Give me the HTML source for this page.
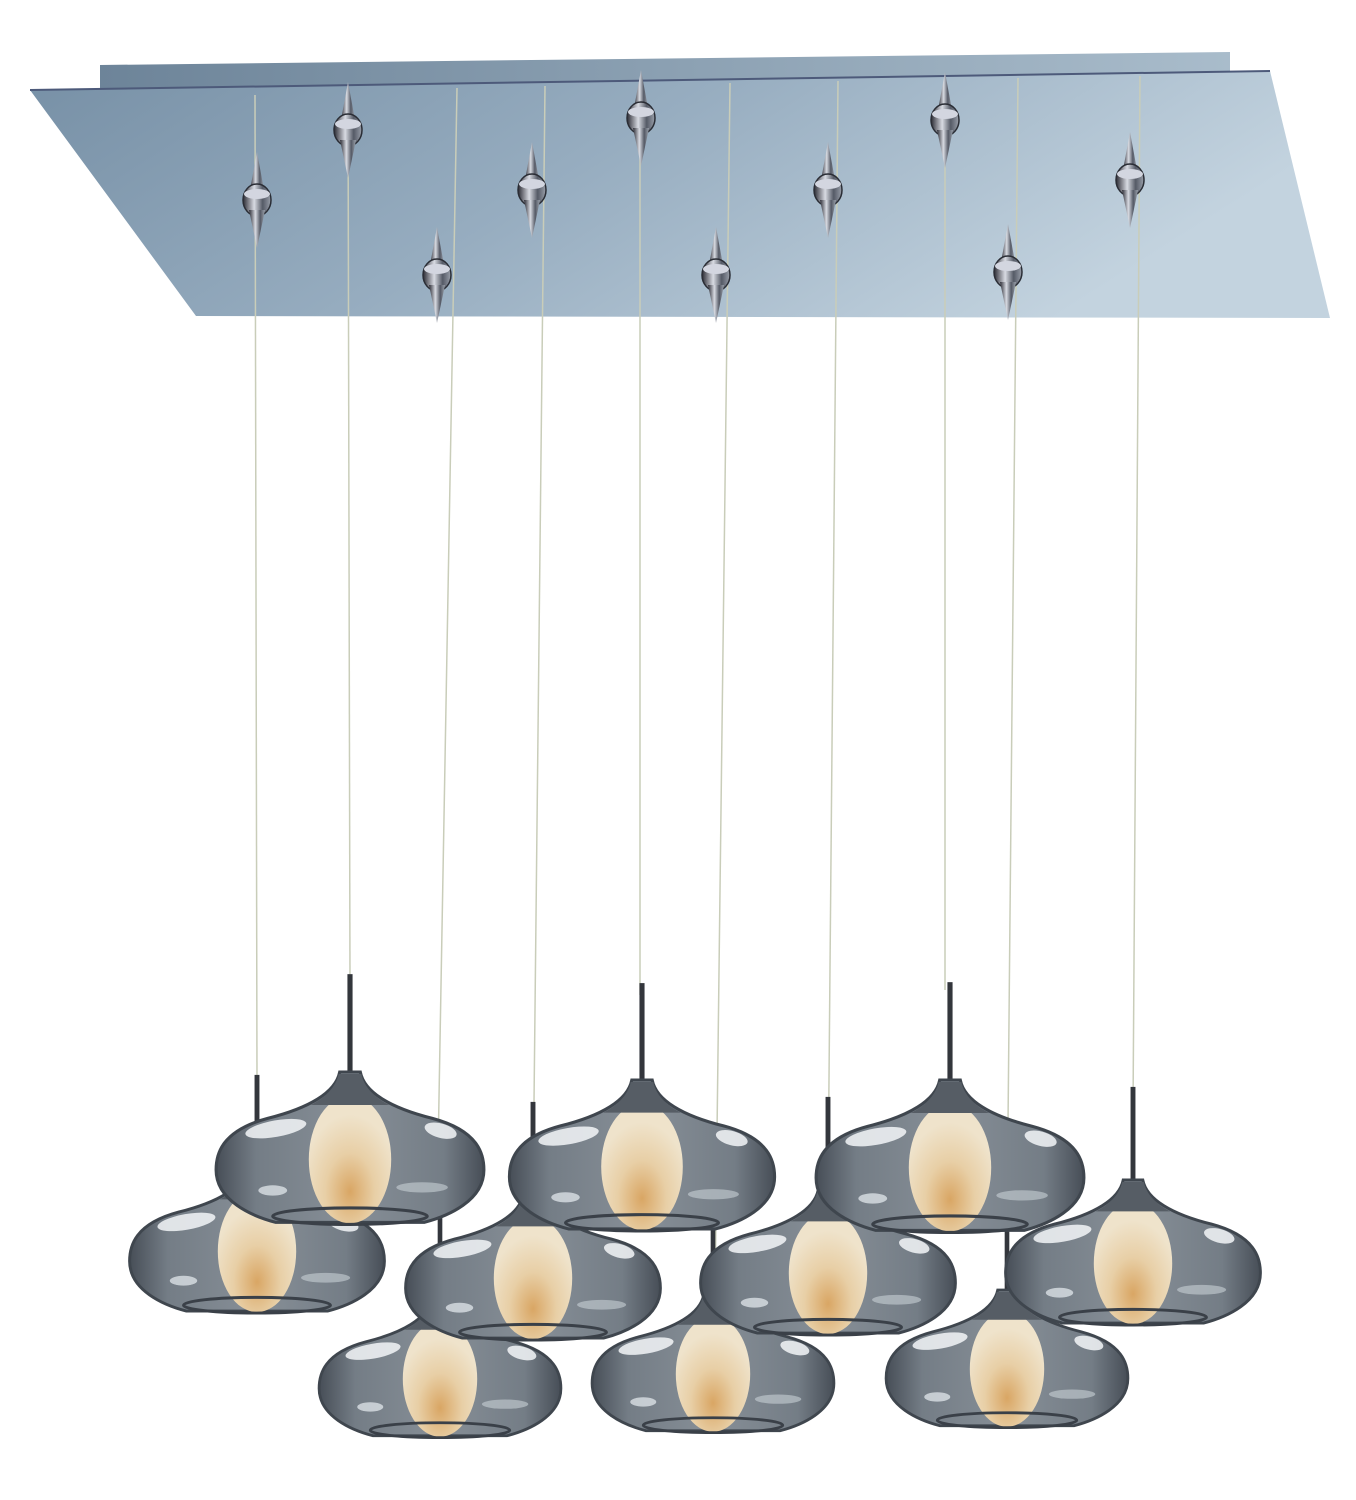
<!DOCTYPE html>
<html><head><meta charset="utf-8"><style>html,body{margin:0;padding:0;background:#fff}svg{display:block}</style></head>
<body>
<svg width="1356" height="1500" viewBox="0 0 1356 1500" xmlns="http://www.w3.org/2000/svg">
<defs>
<linearGradient id="plate" x1="0" y1="0" x2="1" y2="0.3">
<stop offset="0" stop-color="#7790a6"/><stop offset="0.5" stop-color="#97adc0"/><stop offset="1" stop-color="#c3d3df"/>
</linearGradient>
<linearGradient id="back" x1="0" y1="0" x2="1" y2="0">
<stop offset="0" stop-color="#6d8499"/><stop offset="1" stop-color="#a9bccb"/>
</linearGradient>
<linearGradient id="glass" x1="0" y1="0" x2="1" y2="0">
<stop offset="0" stop-color="#474e57"/><stop offset="0.15" stop-color="#747d86"/><stop offset="0.5" stop-color="#878f97"/><stop offset="0.85" stop-color="#747d86"/><stop offset="1" stop-color="#474e57"/>
</linearGradient>
<radialGradient id="core" cx="0.5" cy="0.75" r="0.6">
<stop offset="0" stop-color="#d9a664"/><stop offset="0.5" stop-color="#e8cfa6"/><stop offset="1" stop-color="#efe3cb"/>
</radialGradient>
<linearGradient id="chrome" x1="0" y1="0" x2="1" y2="0">
<stop offset="0" stop-color="#2a2a33"/><stop offset="0.4" stop-color="#d8dbe2"/><stop offset="0.7" stop-color="#555a66"/><stop offset="1" stop-color="#9aa0aa"/>
</linearGradient>
<g id="pend">
<rect x="-2.5" y="-95" width="5" height="97" fill="#33363c"/>
<path d="M-10,0 C-14,20 -40,35 -80,45 C-125,57 -130,80 -130,95 C-130,125 -95,140 -72,146 L72,146 C95,140 130,125 130,95 C130,80 125,57 80,45 C40,35 14,20 10,0 Z" fill="url(#glass)" stroke="#3f464e" stroke-width="3"/>
<ellipse cx="0" cy="85" rx="40" ry="62" fill="url(#core)"/>
<ellipse cx="0" cy="140" rx="75" ry="8" fill="none" stroke="#3a4048" stroke-width="3"/>
<path d="M-11,2 C-14,16 -26,26 -38,32 L38,32 C26,26 14,16 11,2 Z" fill="#565d65"/>
<ellipse cx="-72" cy="55" rx="30" ry="8" fill="#f3f6f8" opacity="0.85" transform="rotate(-10 -72 55)"/>
<ellipse cx="88" cy="57" rx="16" ry="7" fill="#f3f6f8" opacity="0.85" transform="rotate(15 88 57)"/>
<ellipse cx="-75" cy="115" rx="14" ry="5" fill="#e8eef2" opacity="0.7"/>
<ellipse cx="70" cy="112" rx="25" ry="5" fill="#c8d0d6" opacity="0.6"/>
</g>
<g id="mount">
<path d="M0,-48 L-7,-10 L7,-10 Z" fill="url(#chrome)"/>
<ellipse cx="0" cy="0" rx="14" ry="16" fill="url(#chrome)" stroke="#2a2d35" stroke-width="1.5"/>
<ellipse cx="0" cy="-6" rx="13" ry="5" fill="#d3d6e0"/>
<path d="M-8,10 L0,48 L8,10 Z" fill="url(#chrome)"/>
</g>
</defs>
<polygon points="100,65 1230,52 1230,75 100,95" fill="url(#back)"/>
<polygon points="30,90 1270,71 1330,318 196,316" fill="url(#plate)"/>
<line x1="30" y1="90" x2="1270" y2="71" stroke="#4d5a7a" stroke-width="2"/>
<g stroke="#c9cdb9" stroke-width="1.5">
<line x1="457" y1="88" x2="437" y2="1210"/>
<line x1="545" y1="86" x2="533" y2="1195"/>
<line x1="730" y1="83" x2="715" y2="1295"/>
<line x1="838" y1="81" x2="828" y2="1190"/>
<line x1="1018" y1="78" x2="1007" y2="1230"/>
<line x1="1140" y1="76" x2="1133" y2="1110"/>
<line x1="348" y1="90" x2="350" y2="985"/>
<line x1="640" y1="86" x2="640" y2="995"/>
<line x1="945" y1="80" x2="945" y2="990"/>
<line x1="255" y1="95" x2="257" y2="1085"/>
</g>
<use href="#mount" x="257" y="200"/>
<use href="#mount" x="348" y="130"/>
<use href="#mount" x="437" y="275"/>
<use href="#mount" x="532" y="190"/>
<use href="#mount" x="641" y="118"/>
<use href="#mount" x="716" y="275"/>
<use href="#mount" x="828" y="190"/>
<use href="#mount" x="945" y="120"/>
<use href="#mount" x="1008" y="272"/>
<use href="#mount" x="1130" y="180"/>
<g transform="translate(440,1300) scale(0.93)"><use href="#pend"/></g>
<g transform="translate(713,1295) scale(0.93)"><use href="#pend"/></g>
<g transform="translate(1007,1290) scale(0.93)"><use href="#pend"/></g>
<g transform="translate(257,1168) scale(0.98)"><use href="#pend"/></g>
<g transform="translate(533,1195) scale(0.98)"><use href="#pend"/></g>
<g transform="translate(828,1190) scale(0.98)"><use href="#pend"/></g>
<g transform="translate(1133,1180) scale(0.98)"><use href="#pend"/></g>
<g transform="translate(350,1072) scale(1.03)"><use href="#pend"/></g>
<g transform="translate(642,1080) scale(1.02)"><use href="#pend"/></g>
<g transform="translate(950,1080) scale(1.03)"><use href="#pend"/></g>
</svg>
</body></html>
